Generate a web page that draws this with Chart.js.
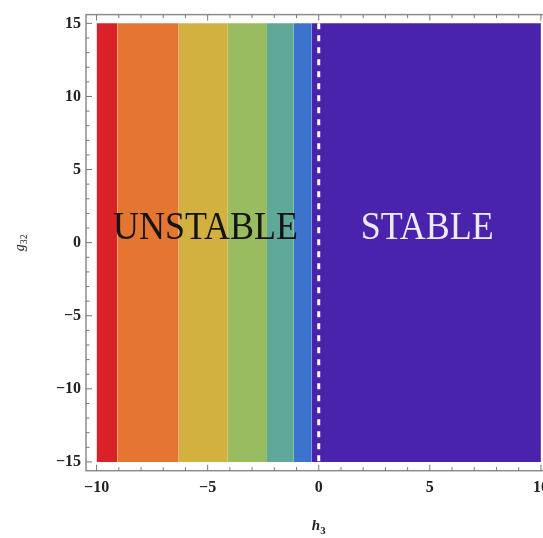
<!DOCTYPE html>
<html>
<head>
<meta charset="utf-8">
<script src="https://cdn.jsdelivr.net/npm/chart.js@4.4.1/dist/chart.umd.min.js"></script>
<style>
  html, body { margin: 0; padding: 0; background: #fff; overflow: hidden; }
  #wrap { width: 557px; height: 538px; position: relative; }
</style>
</head>
<body>
<div id="wrap"><canvas id="chart"></canvas></div>
<script>
// data
const bandEdges = [-10, -9.07, -6.30, -4.09, -2.33, -1.12, -0.31, 10];
const bandColors = ["#da2128", "#e57631", "#d2b141", "#98bc5f", "#5fa89a", "#3e73cd", "#4a23ad"];
const yRange = [-15, 15];
const boundaryX = 0;
const xTicks = [-10, -5, 0, 5, 10];
const yTicks = [-15, -10, -5, 0, 5, 10, 15];
const regionLabels = ["UNSTABLE", "STABLE"];

const fmt = v => (v < 0 ? "\u2212" + Math.abs(v) : String(v));
const tickFont = { family: "Liberation Serif", size: 16, weight: "bold" };

const datasets = bandColors.map((c, i) => ({
  data: [{ x: bandEdges[i], y: yRange[1] }, { x: bandEdges[i + 1], y: yRange[1] }],
  fill: { value: yRange[0] },
  backgroundColor: c,
  borderColor: c,
  borderWidth: 0,
  pointRadius: 0,
  order: 2,
}));
// dashed stability boundary, drawn on top of the bands
datasets.push({
  data: [{ x: boundaryX, y: yRange[1] }, { x: boundaryX, y: yRange[0] }],
  fill: false,
  borderColor: "#ffffff",
  borderWidth: 3,
  borderDash: [6, 6],
  pointRadius: 0,
  order: 0,
});

// frame with inward ticks, region labels and axis titles
const decor = {
  id: "decor",
  afterDraw(chart) {
    const { ctx, chartArea: a, scales: { x, y } } = chart;
    ctx.save();
    ctx.strokeStyle = "#8d8d8d";
    ctx.lineWidth = 1.5;
    ctx.strokeRect(a.left, a.top, a.right - a.left, a.bottom - a.top);
    ctx.lineWidth = 1;
    ctx.strokeStyle = "#777";
    ctx.beginPath();
    for (let v = -10; v <= 10; v++) {
      const px = x.getPixelForValue(v), len = v % 5 === 0 ? 6 : 3.5;
      ctx.moveTo(px, a.bottom); ctx.lineTo(px, a.bottom - len);
      ctx.moveTo(px, a.top); ctx.lineTo(px, a.top + len);
    }
    for (let v = -15; v <= 15; v++) {
      const py = y.getPixelForValue(v), len = v % 5 === 0 ? 6 : 3.5;
      ctx.moveTo(a.left, py); ctx.lineTo(a.left + len, py);
      ctx.moveTo(a.right, py); ctx.lineTo(a.right - len, py);
    }
    ctx.stroke();

    // region labels
    const drawWord = (txt, cx, cy, w, color) => {
      ctx.save();
      ctx.font = "40px 'Liberation Serif'";
      const m = ctx.measureText(txt).width;
      ctx.translate(cx, cy);
      ctx.scale(w / m, 1);
      ctx.fillStyle = color;
      ctx.textAlign = "center";
      ctx.textBaseline = "middle";
      ctx.fillText(txt, 0, 0);
      ctx.restore();
    };
    drawWord(regionLabels[0], x.getPixelForValue(-5.1), y.getPixelForValue(1.0), 185, "#141414");
    drawWord(regionLabels[1], x.getPixelForValue(4.88), y.getPixelForValue(1.0), 133, "#ecebf5");

    // axis titles with subscripts
    ctx.fillStyle = "#222";
    ctx.textBaseline = "alphabetic";
    ctx.textAlign = "left";
    // h3
    ctx.font = "italic bold 15px 'Liberation Serif'";
    const hw = ctx.measureText("h").width;
    ctx.font = "bold 11px 'Liberation Serif'";
    const sw = ctx.measureText("3").width;
    let sx = x.getPixelForValue(0) - (hw + sw) / 2;
    ctx.font = "italic bold 15px 'Liberation Serif'";
    ctx.fillText("h", sx, 530);
    ctx.font = "bold 11px 'Liberation Serif'";
    ctx.fillText("3", sx + hw, 534);
    // g32 rotated
    ctx.translate(24, y.getPixelForValue(0));
    ctx.rotate(-Math.PI / 2);
    ctx.font = "italic 14px 'Liberation Serif'";
    const gw = ctx.measureText("g").width;
    ctx.font = "10px 'Liberation Serif'";
    const s2 = ctx.measureText("32").width;
    sx = -(gw + s2) / 2;
    ctx.font = "italic 14px 'Liberation Serif'";
    ctx.fillText("g", sx, 0);
    ctx.font = "10px 'Liberation Serif'";
    ctx.fillText("32", sx + gw, 3);
    ctx.restore();
  },
};

new Chart(document.getElementById("chart"), {
  type: "line",
  data: { datasets },
  options: {
    responsive: true,
    maintainAspectRatio: false,
    animation: false,
    layout: { padding: { top: 6, right: 4, left: 0, bottom: 0 } },
    plugins: { legend: { display: false }, tooltip: { enabled: false } },
    scales: {
      x: {
        type: "linear",
        min: -10.476,
        max: 10.476,
        afterBuildTicks: s => { s.ticks = xTicks.map(v => ({ value: v })); },
        afterFit: s => { s.height = 67.3; },
        grid: { display: false, drawTicks: false },
        border: { display: false },
        ticks: { font: tickFont, color: "#222", padding: 8, maxRotation: 0, callback: fmt },
      },
      y: {
        type: "linear",
        min: -15.6,
        max: 15.6,
        afterBuildTicks: s => { s.ticks = yTicks.map(v => ({ value: v })); },
        afterFit: s => { s.width = 86; },
        grid: { display: false, drawTicks: false },
        border: { display: false },
        ticks: { font: tickFont, color: "#222", padding: 5, callback: fmt },
      },
    },
  },
  plugins: [decor],
});
</script>
</body>
</html>
